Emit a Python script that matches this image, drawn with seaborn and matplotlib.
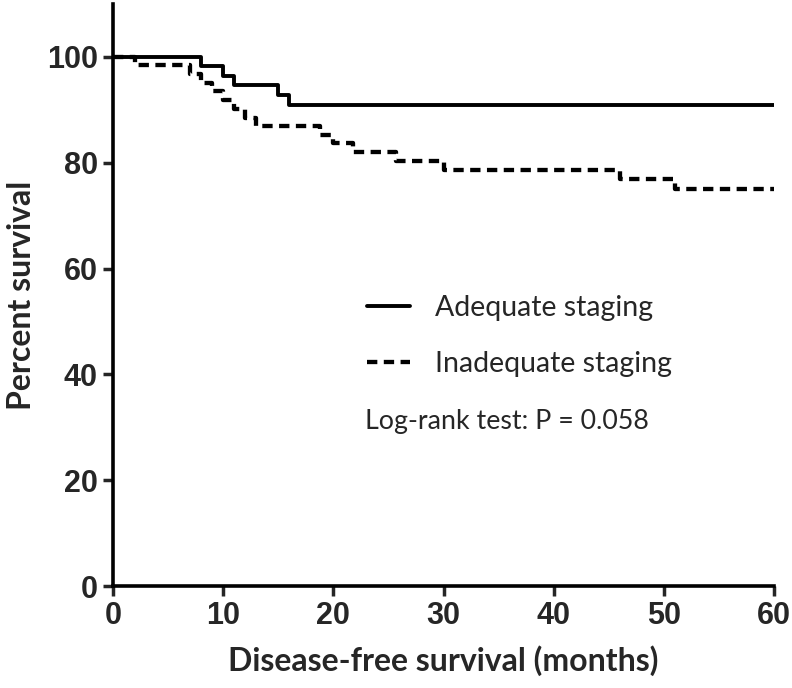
import pandas as pd
import numpy as np
import seaborn as sns
import matplotlib.pyplot as plt

# Kaplan-Meier step values (months, percent)
adequate_time = [0, 8, 10, 11, 15, 16, 60]
adequate_surv = [100, 98.2, 96.4, 94.6, 92.8, 91.0, 91.0]

inadequate_time = [0, 2, 7, 8, 9, 10, 11, 12, 13, 18.8, 20, 21.8, 25.7, 30, 46, 51, 60]
inadequate_surv = [100, 98.4, 96.8, 95.1, 93.5, 91.8, 90.2, 88.5, 86.9, 85.3, 83.7,
                   82.0, 80.3, 78.7, 76.9, 75.0, 75.0]

groups = ['Adequate staging', 'Inadequate staging']
x_ticks = [0, 10, 20, 30, 40, 50, 60]
y_ticks = [0, 20, 40, 60, 80, 100]

df = pd.concat([
    pd.DataFrame({'time': adequate_time, 'surv': adequate_surv, 'group': groups[0]}),
    pd.DataFrame({'time': inadequate_time, 'surv': inadequate_surv, 'group': groups[1]}),
])

sns.set_style('white')
plt.rcParams['font.family'] = ['Liberation Sans', 'DejaVu Sans']

fig = plt.figure(figsize=(7.92, 6.88), dpi=100)
ax = fig.add_axes([113/792, 1-586/688, (774-113)/792, (586-4)/688])

sns.lineplot(data=df, x='time', y='surv', style='group', color='black',
             dashes={groups[0]: '', groups[1]: (2.4, 1.5)}, drawstyle='steps-post',
             estimator=None, sort=False, linewidth=2.8, ax=ax)
ax.lines[1].set_linewidth(3.1)

ax.set_xlim(0, 60)
ax.set_ylim(0, 110)
ax.set_xticks(x_ticks)
ax.set_yticks(y_ticks)
ax.set_xticklabels([str(t) for t in x_ticks], fontsize=22, fontweight='bold')
ax.set_yticklabels([str(t) for t in y_ticks], fontsize=22, fontweight='bold')
ax.tick_params(direction='out', length=7, width=2.5, pad=4, bottom=True, left=True)
sns.despine(ax=ax)
for s in ['left', 'bottom']:
    ax.spines[s].set_linewidth(2.6)
    ax.spines[s].set_color('black')

ax.set_xlabel('Disease-free survival (months)', fontsize=23, fontweight='bold',
              family='Lato', labelpad=10)
ax.set_ylabel('Percent survival', fontsize=23, fontweight='bold', family='Lato', labelpad=8)

handles, labels = ax.get_legend_handles_labels()
for h, lw in zip(handles, [2.8, 3.1]):
    h.set_linewidth(lw)
ax.legend(handles, labels, loc='upper left', bbox_to_anchor=(367/792, 1-295/688),
          bbox_transform=fig.transFigure, frameon=False, borderpad=0, borderaxespad=0,
          handlelength=1.5, handletextpad=0.9, labelspacing=1.05,
          prop={'family': 'Lato', 'size': 20.5})

fig.text(365/792, 1-422/688, 'Log-rank test: P = 0.058', fontsize=19.3, family='Lato',
         va='center', ha='left')

fig.savefig('out.png', dpi=100)
